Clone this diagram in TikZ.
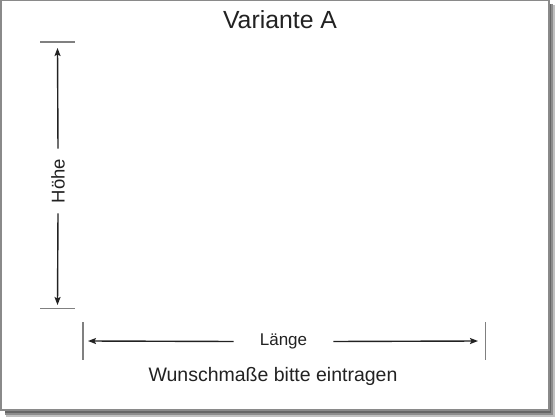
\documentclass[tikz,border=0pt]{standalone}
\usepackage{fontspec}
\setmainfont{Liberation Sans}
\usetikzlibrary{arrows.meta}
\definecolor{txt}{HTML}{222222}
\definecolor{tick}{HTML}{808080}
\definecolor{frame}{HTML}{8A8A8A}
\tikzset{
  dimarrow/.style={draw=txt, line width=1.4pt, -{Stealth[length=8pt,width=6pt,inset=1.5pt]}},
  ticks/.style={draw=tick, line width=1.5pt},
  lbl/.style={text=txt, inner sep=0pt},
}
\begin{document}
\begin{tikzpicture}[x=1pt,y=-1pt]
\useasboundingbox (0,0) rectangle (560,420);
% shadow
\fill[black!25] (6,410) rectangle (555,417);
\fill[black!25] (549,5) rectangle (555,417);
\fill[black!45] (5,410) rectangle (553,415);
\fill[black!45] (549,4) rectangle (553,415);
\fill[black!60] (5,410) rectangle (551,413);
\fill[black!60] (549,4) rectangle (551,413);
% paper
\draw[frame, fill=white, line width=1.5pt] (0.75,0.75) rectangle (549,410);
% title
\node[lbl, font=\fontsize{24.8}{28}\selectfont, anchor=base] (title) at (280,29) {Variante A};
% height
\coordinate (htopL) at (40,42);
\coordinate (htopR) at (75,42);
\coordinate (hbotL) at (40,308.5);
\coordinate (hbotR) at (75,308.5);
\coordinate (vtop) at (57.5,48);
\coordinate (vbot) at (57.5,305);
\draw[ticks] (htopL) -- (htopR);
\draw[ticks] (hbotL) -- (hbotR);
\node[lbl, font=\fontsize{18.5}{22}\selectfont, rotate=90, inner xsep=10pt, inner ysep=2pt] (hoehe) at (58,181) {Höhe};
\draw[dimarrow] (hoehe.east) -- (vtop);
\draw[dimarrow] (hoehe.west) -- (vbot);
% length
\coordinate (lLt) at (83,322);
\coordinate (lLb) at (83,360);
\coordinate (lRt) at (485.5,322);
\coordinate (lRb) at (485.5,360);
\coordinate (lleft) at (88,341);
\coordinate (lright) at (478,341);
\draw[ticks] (lLt) -- (lLb);
\draw[ticks] (lRt) -- (lRb);
\node[lbl, font=\fontsize{17}{20}\selectfont, inner xsep=26pt, inner ysep=2pt] (laenge) at (283.5,341.5) {Länge};
\draw[dimarrow] (laenge.west) -- (lleft);
\draw[dimarrow] (laenge.east) -- (lright);
% note
\node[lbl, font=\fontsize{19.5}{23}\selectfont, anchor=base] (note) at (273,381.5) {Wunschmaße bitte eintragen};
\end{tikzpicture}
\end{document}
